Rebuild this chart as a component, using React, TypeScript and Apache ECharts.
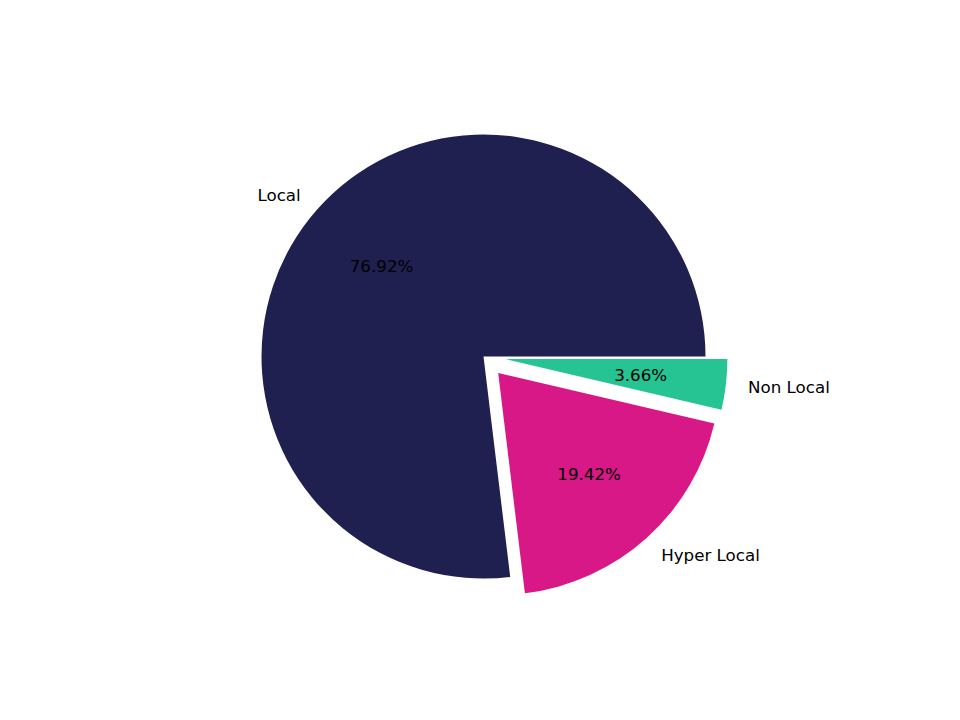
import * as echarts from "echarts";
import { useEffect, useRef } from "react";

const categories = ["Local", "Hyper Local", "Non Local"];
const shares = [76.92, 19.42, 3.66];
const exploded = [false, true, true];
const colors = ["#1f1f50", "#d71886", "#26c493"];

const RADIUS = 222;
const CENTER = [483.5, 356.5];
const EXPLODE = 22; // 0.1 * radius
const FONT_SIZE = 16.7;

function App() {
  const chartRef = useRef<HTMLDivElement>(null);

  useEffect(() => {
    if (!chartRef.current) return;
    document.body.style.margin = "0";
    const chart = echarts.init(chartRef.current, null, { renderer: "svg" });

    const base = {
      type: "pie",
      center: CENTER,
      startAngle: 0,
      clockwise: false,
      selectedMode: "multiple",
      selectedOffset: EXPLODE,
      avoidLabelOverlap: false,
      silent: true,
      emphasis: { disabled: true },
    };

    chart.setOption({
      animation: false,
      backgroundColor: "#ffffff",
      textStyle: { fontFamily: "DejaVu Sans" },
      series: [
        {
          ...base,
          radius: [0, RADIUS],
          itemStyle: { borderWidth: 0 },
          label: {
            show: true,
            position: "outside",
            formatter: "{b}",
            color: "#000",
            fontSize: FONT_SIZE,
            distanceToLabelLine: 0,
          },
          labelLine: { show: false, length: RADIUS * 0.1, length2: 0 },
          data: categories.map((name, i) => ({
            name,
            value: shares[i],
            selected: exploded[i],
            itemStyle: { color: colors[i] },
          })),
        },
        {
          // transparent ring so the inside label sits at 0.6 r
          ...base,
          radius: [0, RADIUS * 1.2],
          itemStyle: { color: "transparent", borderWidth: 0 },
          label: {
            show: true,
            position: "inside",
            formatter: "{d}%",
            color: "#000",
            fontSize: FONT_SIZE,
          },
          labelLine: { show: false },
          data: categories.map((name, i) => ({
            name,
            value: shares[i],
            selected: exploded[i],
          })),
        },
      ],
    });

    return () => {
      chart.dispose();
    };
  }, []);

  return (
    <div
      ref={chartRef}
      style={{ position: "absolute", left: 0, top: 0, width: 960, height: 720 }}
    />
  );
}

export default App;
